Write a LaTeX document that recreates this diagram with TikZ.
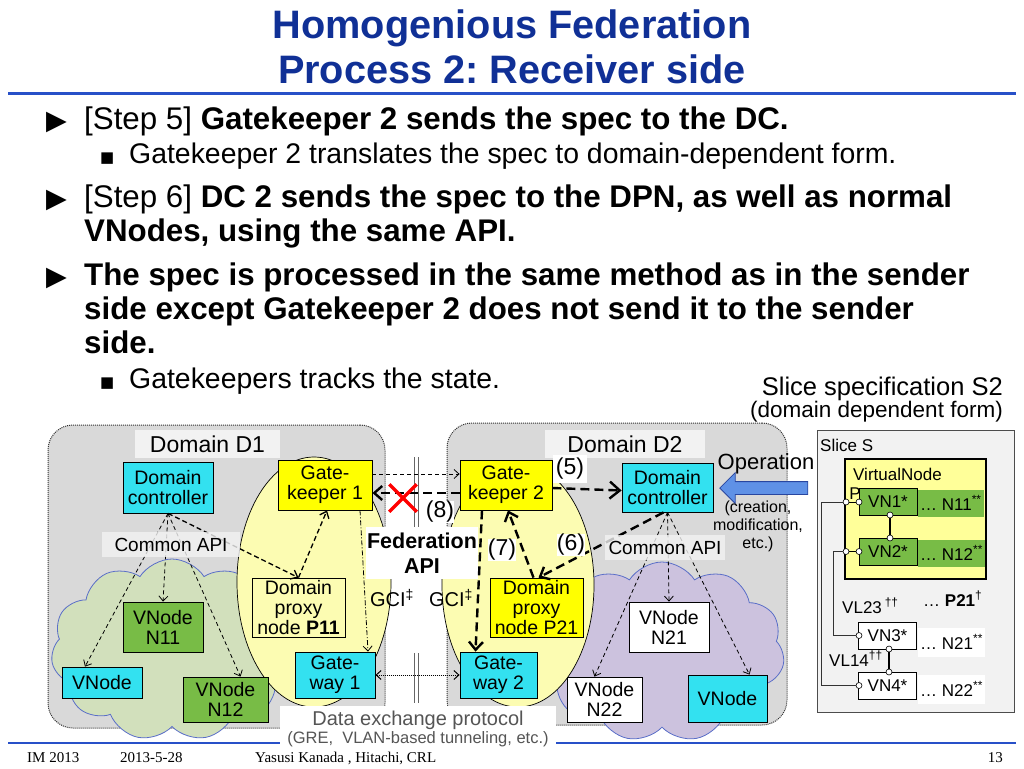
\documentclass[tikz,border=0pt]{standalone}
\usepackage{fontspec}
\setmainfont{Liberation Sans}
\newfontfamily\footfont{Liberation Serif}
\newfontfamily\symfont{DejaVu Sans}
\usetikzlibrary{shapes.geometric, arrows, arrows.meta}
\usetikzlibrary{calc, shapes, shapes.misc, shapes.arrows, backgrounds}
\definecolor{titleblue}{RGB}{16,48,150}
\definecolor{ruleblue}{RGB}{40,80,200}
\definecolor{domgray}{RGB}{217,217,217}
\definecolor{labelgray}{RGB}{242,242,242}
\definecolor{nodecyan}{RGB}{51,225,240}
\definecolor{nodegreen}{RGB}{120,188,70}
\definecolor{gkyellow}{RGB}{255,255,0}
\definecolor{paleyellow}{RGB}{252,252,178}
\definecolor{cloudgreen}{RGB}{210,224,188}
\definecolor{cloudpurple}{RGB}{204,194,222}
\definecolor{cloudline}{RGB}{90,110,200}
\definecolor{opblue}{RGB}{95,145,230}
\definecolor{opline}{RGB}{40,70,160}
\definecolor{vnyellow}{RGB}{255,255,153}
\definecolor{protogray}{RGB}{85,85,85}
\newcommand{\fsz}[2]{\fontsize{#1}{#2}\selectfont}
\tikzstyle{domainbox} = [rectangle, rounded corners=25pt, draw=black!80, densely dotted, line width=1pt, fill=domgray]
\tikzstyle{cloudbg} = [cloud, cloud puffs=11, cloud puff arc=115, aspect=1.35, draw=cloudline, line width=0.8pt]
\tikzstyle{oval} = [ellipse, draw=black, line width=0.7pt, fill=paleyellow]
\tikzstyle{box} = [rectangle, draw=black, line width=0.8pt, align=center, inner sep=0pt, font=\fsz{19.5}{20}]
\tikzstyle{cyanbox} = [box, fill=nodecyan]
\tikzstyle{greenbox} = [box, fill=nodegreen]
\tikzstyle{gatebox} = [box, fill=gkyellow]
\tikzstyle{whitebox} = [box, fill=white]
\tikzstyle{tag} = [rectangle, inner sep=0pt, font=\fsz{23}{23}]
\tikzstyle{apilabel} = [rectangle, fill=labelgray, fill opacity=0.8, text opacity=1, inner sep=0pt, font=\fsz{19}{19}]
\tikzstyle{thinarrow} = [-{Straight Barb[length=5pt, width=9pt]}, line width=0.8pt, dash pattern=on 4pt off 3pt]
\tikzstyle{midarrow} = [-{Straight Barb[length=6pt, width=10pt]}, line width=1.3pt, dash pattern=on 5pt off 3pt]
\tikzstyle{thickarrow} = [-{Straight Barb[length=8pt, width=14pt]}, line width=2.4pt, dash pattern=on 9pt off 5pt]
\tikzstyle{mainline} = [anchor=base west, inner sep=0pt, font=\fsz{31.3}{34}]
\tikzstyle{subline} = [anchor=base west, inner sep=0pt, font=\fsz{28.4}{31}]
\tikzstyle{tri} = [anchor=base west, inner sep=0pt, font=\symfont\fsz{27}{27}]
\tikzstyle{sq} = [anchor=base west, inner sep=0pt, font=\symfont\fsz{15}{15}]
\tikzstyle{slicebox} = [rectangle, draw=black, line width=0.7pt, inner sep=0pt, minimum width=58, minimum height=27, font=\fsz{17}{17}]
\tikzstyle{slicetext} = [anchor=base west, inner sep=1pt, font=\fsz{17}{17}]
\tikzstyle{port} = [circle, draw=black, fill=white, line width=0.6pt, inner sep=0pt, minimum size=6]
\tikzstyle{linkline} = [line width=1.6pt]
\tikzstyle{footer} = [anchor=base west, inner sep=0pt, font=\footfont\fsz{15}{15}]

\begin{document}
\frenchspacing
\begin{tikzpicture}[x=1pt, y=-1pt]
\useasboundingbox (0,0) rectangle (1024,768);
% title
\node(titleA)[anchor=base, inner sep=0pt, text=titleblue, font=\bfseries\fsz{39.7}{40}] at (512,38) {Homogenious Federation};
\node(titleB)[anchor=base, inner sep=0pt, text=titleblue, font=\bfseries\fsz{39.7}{40}] at (512,83) {Process 2: Receiver side};
\draw[ruleblue, line width=3pt] (8,93) -- (1016,93);
% bullets
\node(triA)[tri] at (46,129) {▶};
\node(stepfive)[mainline] at (84,129) {[Step 5] \textbf{Gatekeeper 2 sends the spec to the DC.}};
\node(sqA)[sq] at (100,162) {■};
\node(translate)[subline] at (129,163) {Gatekeeper 2 translates the spec to domain-dependent form.};
\node(triB)[tri] at (46,207) {▶};
\node(stepsix)[mainline] at (84,207) {[Step 6] \textbf{DC 2 sends the spec to the DPN, as well as normal}};
\node(stepsixb)[mainline] at (84,241) {\textbf{VNodes, using the same API.}};
\node(triC)[tri] at (46,285) {▶};
\node(sameA)[mainline] at (84,285) {\textbf{The spec is processed in the same method as in the sender}};
\node(sameB)[mainline] at (84,319) {\textbf{side except Gatekeeper 2 does not send it to the sender}};
\node(sameC)[mainline] at (84,353) {\textbf{side.}};
\node(sqB)[sq] at (100,387) {■};
\node(tracks)[subline] at (129,388) {Gatekeepers tracks the state.};
\node(specname)[anchor=base east, inner sep=0pt, font=\fsz{25.5}{26}] at (1003,395) {Slice specification S2};
\node(specform)[anchor=base east, inner sep=0pt, font=\fsz{22.5}{23}] at (1003,417) {(domain dependent form)};

% domains
\node(domone)[domainbox, minimum width=337, minimum height=303] at (216.5,576.5) {};
\node(domtwo)[domainbox, minimum width=340, minimum height=302] at (617,574) {};
\node(cloudone)[cloudbg, fill=cloudgreen, minimum width=242, minimum height=182] at (172,650) {};
\node(cloudtwo)[cloudbg, fill=cloudpurple, minimum width=245, minimum height=180] at (662,652) {};
\node(ovalone)[oval, minimum width=154, minimum height=250] at (314,582) {};
\node(ovaltwo)[oval, minimum width=152, minimum height=244] at (518,585) {};
\node(domonename)[rectangle, fill=labelgray, minimum width=145, minimum height=28, inner sep=0pt, font=\fsz{23}{23}] at (207.5,444) {Domain D1};
\node(domtwoname)[rectangle, fill=labelgray, minimum width=160, minimum height=28, inner sep=0pt, font=\fsz{23}{23}] at (625,444) {Domain D2};

% domain 1 nodes
\node(dcone)[cyanbox, minimum width=90, minimum height=51] at (168,487.5) {Domain\\controller};
\node(gkone)[gatebox, minimum width=94, minimum height=50] at (325,485) {Gate-\\keeper 1};
\node(nodeNA)[greenbox, minimum width=80, minimum height=50] at (163,627) {VNode\\N11};
\node(nodeA)[cyanbox, minimum width=80, minimum height=31] at (102,682.5) {VNode};
\node(nodeNB)[greenbox, minimum width=85, minimum height=45] at (225.5,699.5) {VNode\\N12};
\node(dpone)[box, minimum width=93, minimum height=59] at (298.5,607.5) {Domain\\proxy\\node \textbf{P11}};
\node(gwone)[cyanbox, minimum width=80, minimum height=46] at (335,675) {Gate-\\way 1};

% domain 2 nodes
\node(gktwo)[gatebox, minimum width=92, minimum height=50] at (506,485) {Gate-\\keeper 2};
\node(dctwo)[cyanbox, minimum width=91, minimum height=49] at (667.5,487.5) {Domain\\controller};
\node(dptwo)[gatebox, minimum width=93, minimum height=59] at (536.5,607.5) {Domain\\proxy\\node P21};
\node(nodeNC)[whitebox, minimum width=80, minimum height=50] at (669,627) {VNode\\N21};
\node(nodeND)[whitebox, minimum width=75, minimum height=45] at (604.5,699.5) {VNode\\N22};
\node(nodeB)[cyanbox, minimum width=79, minimum height=47] at (727.5,698.5) {VNode};
\node(gwtwo)[cyanbox, minimum width=77, minimum height=46] at (498.5,675) {Gate-\\way 2};

% middle
\draw[black!60, line width=0.7pt] (414,457) -- (414,527) (418,457) -- (418,527);
\draw[black!60, line width=0.7pt] (414,653) -- (414,703) (418,653) -- (418,703);
\node(fedapi)[rectangle, fill=white, align=center, inner sep=0pt, minimum width=112, minimum height=52, font=\bfseries\fsz{21.5}{25}] at (422,553) {Federation\\API};
\node(gcione)[inner sep=0pt, font=\fsz{20}{20}] at (392,598) {GCI\textsuperscript{‡}};
\node(gcitwo)[inner sep=0pt, font=\fsz{20}{20}] at (451,598) {GCI\textsuperscript{‡}};

% arrows, domain 1
\draw[thinarrow] (dcone.south) -- ([xshift=-17pt]nodeA.north);
\draw[thinarrow] (dcone.south) -- (nodeNA.north);
\draw[thinarrow] (dcone.south) -- ([xshift=15pt]nodeNB.north);
\draw[midarrow] (dcone.south) -- (dpone.north);
\draw[midarrow] (dpone.north) -- ([xshift=2pt]gkone.south);
\draw[-{Straight Barb[length=5pt, width=9pt]}, line width=0.8pt, dash pattern=on 5pt off 2pt on 1pt off 2pt] ([xshift=35pt]gkone.south) -- ([xshift=33pt]gwone.north);
% arrows, between domains
\draw[thinarrow] ([yshift=11pt]gkone.east) -- ([yshift=11pt]gktwo.west);
\draw[thickarrow] ([yshift=-8pt]gktwo.west) -- ([yshift=-8pt]gkone.east);
\draw[{Straight Barb[length=5pt, width=9pt]}-{Straight Barb[length=5pt, width=9pt]}, line width=1pt, densely dotted] (gwone.east) -- (gwtwo.west);
\node(nogo)[cross out, draw=red, line width=3.5pt, minimum size=24] at (403,498) {};
% arrows, domain 2
\draw[thickarrow, -{Straight Barb[length=10pt, width=17pt]}] ([yshift=-3pt]gktwo.east) -- ([yshift=-3pt]dctwo.west);
\draw[thickarrow] ([xshift=-4pt]dctwo.south) -- ([xshift=2pt]dptwo.north);
\draw[thickarrow] ([xshift=-3pt]dptwo.north) -- ([xshift=2pt]gktwo.south);
\draw[thickarrow] ([xshift=-24pt]gktwo.south) -- ([xshift=-23pt]gwtwo.north);
\draw[thinarrow] (dctwo.south) -- ([xshift=-10pt]nodeND.north);
\draw[thinarrow] (dctwo.south) -- (nodeNC.north);
\draw[thinarrow] (dctwo.south) -- ([xshift=22pt]nodeB.north);

% labels
\node(apione)[apilabel, minimum width=138, minimum height=25] at (171,544.5) {Common API};
\node(apitwo)[apilabel, minimum width=120, minimum height=25] at (665,547.5) {Common API};
\node(tagfive)[tag, fill=white, minimum width=34, minimum height=28] at (570,469) {(5)};
\node(tagsix)[tag, fill=white] at (571,545) {(6)};
\node(tagseven)[tag, fill=white] at (502,550) {(7)};
\node(tageight)[tag, fill=white] at (440,512) {(8)};
\node(operation)[inner sep=0pt, font=\fsz{22}{22}] at (766,464) {Operation};
\node(oparrow)[single arrow, shape border rotate=180, draw=opline, fill=opblue, line width=0.8pt, minimum height=88, inner sep=6, single arrow head extend=9] at (767,488) {};
\node(opnote)[inner sep=0pt, align=center, font=\fsz{16}{18}] at (758,526) {(creation,\\modification,\\etc.)};

% footer
\draw[ruleblue, line width=1.5pt] (8,743) -- (1016,743);
\node(dataex)[rectangle, fill=white, text=protogray, align=center, inner sep=0pt, minimum width=276, minimum height=46] at (418,729) {\fsz{20}{22}Data exchange protocol\\\fsz{16.5}{20}(GRE,\ \ VLAN-based tunneling, etc.)};
\node(conf)[footer] at (27,762) {IM 2013};
\node(date)[footer] at (120,762) {2013-5-28};
\node(author)[footer] at (255,762) {Yasusi Kanada , Hitachi, CRL};
\node(page)[footer, anchor=base east] at (1003,762) {13};

% slice specification
\node(slicepanel)[rectangle, draw=black!70, line width=0.7pt, fill=labelgray, minimum width=197, minimum height=282] at (915.5,571) {};
\node(slicename)[slicetext] at (819,451) {Slice S};
\node(vnodebox)[rectangle, draw=black, line width=2pt, fill=vnyellow, minimum width=141, minimum height=120] at (915.5,519) {};
\node(vnodename)[slicetext] at (852,480) {VirtualNode};
\node(portname)[inner sep=0pt, font=\fsz{17}{17}] at (855,494) {P};
\node(vnone)[slicebox, fill=nodegreen] at (888,501.5) {VN1*};
\node(vntwo)[slicebox, fill=nodegreen] at (888,551.5) {VN2*};
\node(vnthree)[slicebox, fill=white] at (887.5,635.5) {VN3*};
\node(vnfour)[slicebox, fill=white] at (887.5,685.5) {VN4*};
\node(mapone)[anchor=west, fill=nodegreen, inner sep=2pt, minimum height=27, font=\fsz{17}{17}] at (918,503) {… N11\textsuperscript{**}};
\node(maptwo)[anchor=west, fill=nodegreen, inner sep=2pt, minimum height=27, font=\fsz{17}{17}] at (918,553) {… N12\textsuperscript{**}};
\node(mapthree)[anchor=west, fill=white, inner sep=2pt, minimum height=29, font=\fsz{17}{17}] at (918,642) {… N21\textsuperscript{**}};
\node(mapfour)[anchor=west, fill=white, inner sep=2pt, minimum height=29, font=\fsz{17}{17}] at (918,689) {… N22\textsuperscript{**}};
\node(mapproxy)[slicetext] at (922,606) {… \textbf{P21}\textsuperscript{†}};
\node(vltwothree)[slicetext] at (841,613) {VL23\,\textsuperscript{††}};
\node(vlonefour)[slicetext] at (828,666) {VL14\textsuperscript{††}};
% ports
\node(pvone)[port] at (846,502) {};
\node(pvonein)[port] at (859,502) {};
\node(pvonedown)[port] at (890,515) {};
\node(pvtwoup)[port] at (890,538) {};
\node(pvtwo)[port] at (846,551.5) {};
\node(pvtwoin)[port] at (859,551.5) {};
\node(pvthree)[port] at (859,635.5) {};
\node(pvthreedown)[port] at (889,649) {};
\node(pvfourup)[port] at (889,672) {};
\node(pvfour)[port] at (859,685.5) {};
\draw[line width=0.6pt] (pvone) -- (pvonein);
\draw[linkline] (pvonedown) -- (pvtwoup);
\draw[linkline] (pvtwo) -- (pvtwoin);
\draw[linkline] (pvthreedown) -- (pvfourup);
\draw[line width=0.6pt, black!80] (pvone.west) -- ++(-21,0) |- (pvfour.west);
\draw[line width=0.6pt, black!80] (pvtwo.west) -- ++(-9,0) |- (pvthree.west);
\end{tikzpicture}
\end{document}
